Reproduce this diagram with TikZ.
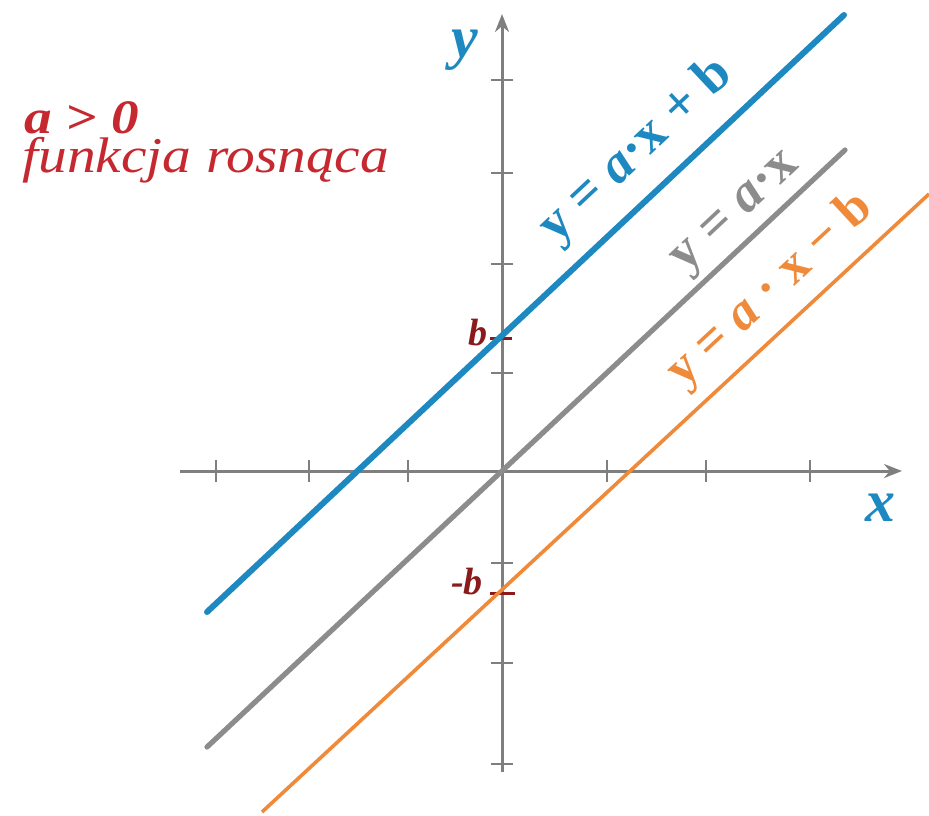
\documentclass[tikz,border=0pt]{standalone}
\usepackage{fontspec}
\setmainfont{Liberation Serif}
\newfontfamily\titlefont[FakeStretch=1.15]{Liberation Serif}
\usetikzlibrary{arrows.meta}
\definecolor{lblue}{HTML}{1E88C0}
\definecolor{lgray}{HTML}{8C8C8C}
\definecolor{axgray}{HTML}{7F7F7F}
\definecolor{lorange}{HTML}{EE8A3A}
\definecolor{tred}{HTML}{C62830}
\definecolor{dred}{HTML}{8B1A1A}
\tikzset{
  axis/.style={draw=axgray,line width=1.5pt,-{Stealth[length=9pt,width=7pt]}},
  tickmark/.style={draw=axgray,line width=1.2pt},
  bmark/.style={draw=dred,line width=1.5pt},
  bluel/.style={draw=lblue,line width=3pt},
  grayl/.style={draw=lgray,line width=2.6pt},
  orangel/.style={draw=lorange,line width=1.8pt},
  fml/.style={font=\fontsize{27}{30}\selectfont\bfseries,inner sep=1pt},
  blab/.style={text=dred,font=\fontsize{19}{22}\selectfont\bfseries\itshape,inner sep=0pt},
  axlab/.style={text=lblue,font=\fontsize{30}{34}\selectfont\bfseries\itshape,inner sep=0pt},
}
\begin{document}
\begin{tikzpicture}[x=0.5pt,y=-0.5pt]
\useasboundingbox (0,0) rectangle (929,815);
% axes
\coordinate (xl) at (180,471);
\coordinate (xr) at (902,471);
\coordinate (yb) at (502,772);
\coordinate (yt) at (502,14);
\draw[axis] (xl) -- (xr);
\draw[axis] (yb) -- (yt);
\foreach \x in {216,309,408,607,706,810}{\draw[tickmark] (\x,460) -- (\x,482);}
\foreach \y in {80,173,264,373,563,663,764}{\draw[tickmark] (491,\y) -- (513,\y);}
% b marks
\draw[bmark] (490,338) -- (512,338);
\draw[bmark] (490,593) -- (515,593);
\node[blab] (lb) at (478,333) {b};
\node[blab] (lmb) at (467,582) {-b};
% lines
\coordinate (b1) at (207,612);
\coordinate (b2) at (844,15);
\coordinate (g1) at (207,747);
\coordinate (g2) at (845,150);
\coordinate (o1) at (262,812);
\coordinate (o2) at (929,194);
\draw[bluel,line cap=round] (b1) -- (b2) node[pos=0.72,sloped,above=6.5pt,fml,text=lblue] (fb) {y = \textit{a}·x + b};
\draw[grayl,line cap=round] (g1) -- (g2) node[pos=0.86,sloped,above=1pt,fml,text=lgray] (fg) {y = \textit{a}·x};
\draw[orangel] (o1) -- (o2) node[pos=0.80,sloped,above=4.5pt,fml,font=\fontsize{26}{30}\selectfont\bfseries,text=lorange] (fo) {y = \textit{a} · x − b};
% axis labels
\node[axlab] (ly) at (465,50) {y};
\node[axlab] (lx) at (880,508) {x};
% title
\node[text=tred,anchor=base west,inner sep=0pt,font=\titlefont\fontsize{24}{28}\selectfont\bfseries\itshape] (t1) at (24,133) {a > 0};
\node[text=tred,anchor=base west,inner sep=0pt,font=\titlefont\fontsize{25}{28}\selectfont\itshape] (t2) at (22,172) {funkcja rosnąca};
\end{tikzpicture}
\end{document}
